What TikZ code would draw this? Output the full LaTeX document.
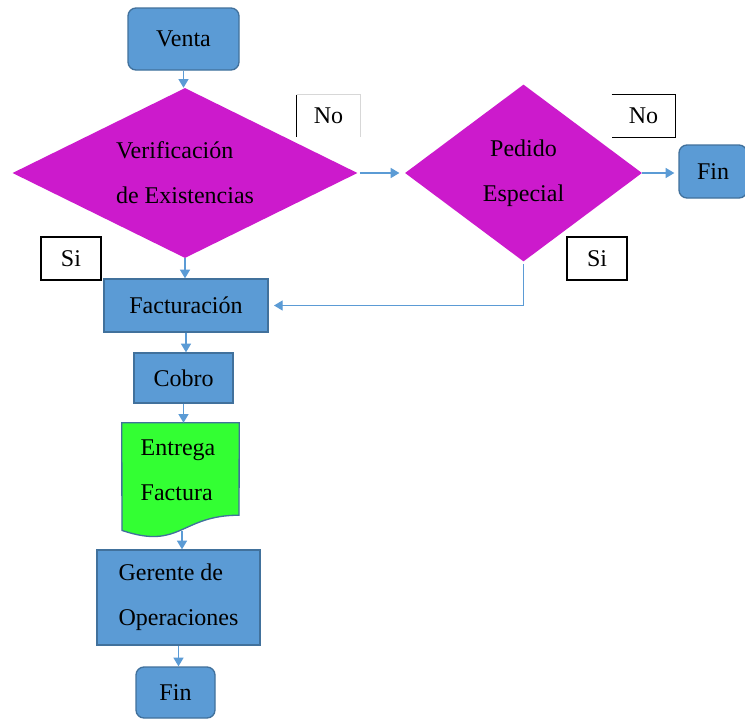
\documentclass[tikz,border=0pt]{standalone}
\usepackage{fontspec}
\setmainfont{Liberation Serif}
\usetikzlibrary{shapes.geometric,arrows.meta}

\definecolor{boxblue}{RGB}{91,155,213}
\definecolor{edgeblue}{RGB}{65,113,156}
\definecolor{decmag}{RGB}{204,26,204}
\definecolor{docgreen}{RGB}{51,255,51}
\definecolor{linkblue}{RGB}{91,155,213}
\definecolor{faintedge}{RGB}{215,215,215}

\newcommand\mainfs{\fontsize{18}{33.75}\selectfont}

\tikzset{
  sz/.style 2 args={minimum width=#1*0.75pt, minimum height=#2*0.75pt},
  procbox/.style={draw=edgeblue, fill=boxblue, line width=1pt, inner sep=0pt, font=\mainfs},
  termbox/.style={procbox, rounded corners=6pt},
  decision/.style={diamond, fill=decmag, inner sep=0pt, shape aspect=2, font=\mainfs},
  tag/.style={inner sep=0pt, font=\mainfs},
  tagedge/.style={draw=black, line width=0.9pt},
  flow/.style={draw=linkblue, line width=1pt, -{Triangle[width=7.5pt,length=6.5pt]}},
}

\begin{document}
\begin{tikzpicture}[x=0.75pt,y=-0.75pt]
  \useasboundingbox (0,0) rectangle (745,719);
  \clip (0,0) rectangle (745,719);
  \fill[white] (0,0) rectangle (745,719);

  % main column
  \node[termbox, sz={111}{62}] (venta) at (183.5,39) {Venta};
  \node[decision, sz={345}{170}, align=left] (verif) at (185,173) {Verificación\\de Existencias};
  \node[procbox, sz={164}{53}] (fact) at (186,305.5) {Facturación};
  \node[procbox, sz={99}{50}] (cobro) at (183.5,378) {Cobro};

  % document shape
  \node[inner sep=0pt, sz={117}{115}] (entrega) at (180.5,480.5) {};
  \filldraw[fill=docgreen, draw=edgeblue, line width=1pt]
    (entrega.north west) -- (entrega.north east) -- (239,515.2)
    .. controls (180.5,515.2) and (180.5,550.3) .. (122,530.4) -- cycle;
  \node[tag, align=left] (entregatxt) at (178,470) {Entrega\\Factura};
  \coordinate (entregabase) at (182,531);

  \node[procbox, sz={163}{95}, align=left] (gerente) at (178.5,597.5) {Gerente de\\Operaciones};
  \node[termbox, sz={79}{51}] (finB) at (175.5,692.5) {Fin};

  % right branch
  \node[decision, sz={237}{177}, align=center] (pedido) at (523.5,173) {Pedido\\Especial};
  \node[termbox, sz={68}{53}] (finA) at (713,171.5) {Fin};

  % answer tags
  \node[tag, sz={63}{42}] (noA) at (328.5,116) {No};
  \draw[faintedge, line width=0.9pt] (noA.north west) -- (noA.north east) -- (noA.south east);
  \draw[tagedge] (noA.north west) -- (noA.south west);

  \node[tag, sz={63}{42}] (noB) at (643.5,116) {No};
  \draw[tagedge] (noB.north west) -- (noB.north east) -- (noB.south east) -- (noB.south west);

  \node[tag, sz={60}{43}, tagedge] (siA) at (71,258.5) {Si};
  \node[tag, sz={60}{43}, tagedge] (siB) at (597,258.5) {Si};

  % connectors
  \draw[flow] (venta.south) -- (venta.south |- verif.north);
  \draw[flow] (verif.south) -- (verif.south |- fact.north);
  \draw[flow, shorten <=1.5pt, shorten >=4pt] (verif.east) -- (verif.east -| pedido.west);
  \draw[flow, shorten >=3pt] (pedido.east) -- (pedido.east -| finA.west);
  \draw[flow, shorten >=4pt] ([yshift=-2pt]pedido.south) |- (fact.east);
  \draw[flow] (fact.south) -- (fact.south |- cobro.north);
  \draw[flow] (cobro.south) -- (cobro.south |- entrega.north);
  \draw[flow] (entregabase) -- (entregabase |- gerente.north);
  \draw[flow] (gerente.south) -- (gerente.south |- finB.north);
\end{tikzpicture}
\end{document}
